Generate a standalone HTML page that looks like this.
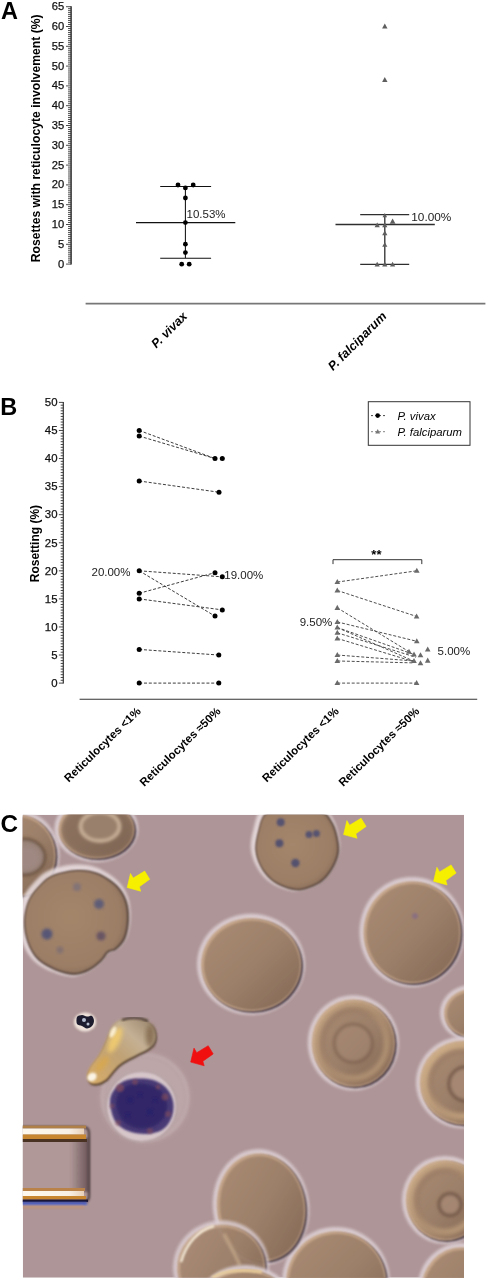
<!DOCTYPE html>
<html><head><meta charset="utf-8"><style>
html,body{margin:0;padding:0;background:#fff;}
svg{display:block;font-family:"Liberation Sans", sans-serif;will-change:transform;} text{-webkit-font-smoothing:antialiased;}
</style></head><body>
<svg width="487" height="1280" viewBox="0 0 487 1280">
<defs>
<clipPath id="clipC"><rect x="22.8" y="814.8" width="441.2" height="462.9"/></clipPath>
<linearGradient id="gbody" x1="0.15" y1="0.15" x2="0.85" y2="0.85"><stop offset="0" stop-color="#a68870"/><stop offset="0.5" stop-color="#9d806a"/><stop offset="1" stop-color="#8a6e5a"/></linearGradient>
<radialGradient id="gbody2" cx="0.45" cy="0.45" r="0.6"><stop offset="0" stop-color="#a4866c"/><stop offset="0.8" stop-color="#9c7e66"/><stop offset="1" stop-color="#8a6e5a"/></radialGradient>
<linearGradient id="gtear" x1="0" y1="1" x2="1" y2="0"><stop offset="0" stop-color="#d8ac68"/><stop offset="0.45" stop-color="#c0a274"/><stop offset="0.7" stop-color="#c4b094"/><stop offset="1" stop-color="#948068"/></linearGradient>
<linearGradient id="grect" x1="0" y1="0" x2="1" y2="0"><stop offset="0" stop-color="#5a4448" stop-opacity="0"/><stop offset="1" stop-color="#5a4448" stop-opacity="0.8"/></linearGradient>
<linearGradient id="gwhite" x1="0" y1="0" x2="1" y2="0"><stop offset="0" stop-color="#fffaf0"/><stop offset="0.8" stop-color="#f8f0e4"/><stop offset="1" stop-color="#e8d0b8"/></linearGradient>
<filter id="b05" x="-20%" y="-20%" width="140%" height="140%"><feGaussianBlur stdDeviation="0.5"/></filter>
<filter id="b08" x="-20%" y="-20%" width="140%" height="140%"><feGaussianBlur stdDeviation="0.8"/></filter>
<filter id="b15" x="-20%" y="-20%" width="140%" height="140%"><feGaussianBlur stdDeviation="1.5"/></filter>
<filter id="b1" x="-20%" y="-20%" width="140%" height="140%"><feGaussianBlur stdDeviation="1"/></filter>
<filter id="b2" x="-30%" y="-30%" width="160%" height="160%"><feGaussianBlur stdDeviation="2"/></filter>
<filter id="b3" x="-30%" y="-30%" width="160%" height="160%"><feGaussianBlur stdDeviation="3"/></filter>
</defs>
<rect width="487" height="1280" fill="#fff"/>
<text x="1.0" y="18.6" font-size="23.5" font-weight="bold">A</text>
<line x1="71.1" y1="6.20" x2="71.1" y2="264.60" stroke="#333" stroke-width="1.5"/>
<path d="M66.0 264.10H71.1M68.0 262.12H71.1M68.0 260.14H71.1M68.0 258.16H71.1M68.0 256.18H71.1M68.0 254.20H71.1M68.0 252.22H71.1M68.0 250.24H71.1M68.0 248.26H71.1M68.0 246.28H71.1M66.0 244.30H71.1M68.0 242.32H71.1M68.0 240.34H71.1M68.0 238.36H71.1M68.0 236.38H71.1M68.0 234.40H71.1M68.0 232.42H71.1M68.0 230.44H71.1M68.0 228.46H71.1M68.0 226.48H71.1M66.0 224.50H71.1M68.0 222.52H71.1M68.0 220.54H71.1M68.0 218.56H71.1M68.0 216.58H71.1M68.0 214.60H71.1M68.0 212.62H71.1M68.0 210.64H71.1M68.0 208.66H71.1M68.0 206.68H71.1M66.0 204.70H71.1M68.0 202.72H71.1M68.0 200.74H71.1M68.0 198.76H71.1M68.0 196.78H71.1M68.0 194.80H71.1M68.0 192.82H71.1M68.0 190.84H71.1M68.0 188.86H71.1M68.0 186.88H71.1M66.0 184.90H71.1M68.0 182.92H71.1M68.0 180.94H71.1M68.0 178.96H71.1M68.0 176.98H71.1M68.0 175.00H71.1M68.0 173.02H71.1M68.0 171.04H71.1M68.0 169.06H71.1M68.0 167.08H71.1M66.0 165.10H71.1M68.0 163.12H71.1M68.0 161.14H71.1M68.0 159.16H71.1M68.0 157.18H71.1M68.0 155.20H71.1M68.0 153.22H71.1M68.0 151.24H71.1M68.0 149.26H71.1M68.0 147.28H71.1M66.0 145.30H71.1M68.0 143.32H71.1M68.0 141.34H71.1M68.0 139.36H71.1M68.0 137.38H71.1M68.0 135.40H71.1M68.0 133.42H71.1M68.0 131.44H71.1M68.0 129.46H71.1M68.0 127.48H71.1M66.0 125.50H71.1M68.0 123.52H71.1M68.0 121.54H71.1M68.0 119.56H71.1M68.0 117.58H71.1M68.0 115.60H71.1M68.0 113.62H71.1M68.0 111.64H71.1M68.0 109.66H71.1M68.0 107.68H71.1M66.0 105.70H71.1M68.0 103.72H71.1M68.0 101.74H71.1M68.0 99.76H71.1M68.0 97.78H71.1M68.0 95.80H71.1M68.0 93.82H71.1M68.0 91.84H71.1M68.0 89.86H71.1M68.0 87.88H71.1M66.0 85.90H71.1M68.0 83.92H71.1M68.0 81.94H71.1M68.0 79.96H71.1M68.0 77.98H71.1M68.0 76.00H71.1M68.0 74.02H71.1M68.0 72.04H71.1M68.0 70.06H71.1M68.0 68.08H71.1M66.0 66.10H71.1M68.0 64.12H71.1M68.0 62.14H71.1M68.0 60.16H71.1M68.0 58.18H71.1M68.0 56.20H71.1M68.0 54.22H71.1M68.0 52.24H71.1M68.0 50.26H71.1M68.0 48.28H71.1M66.0 46.30H71.1M68.0 44.32H71.1M68.0 42.34H71.1M68.0 40.36H71.1M68.0 38.38H71.1M68.0 36.40H71.1M68.0 34.42H71.1M68.0 32.44H71.1M68.0 30.46H71.1M68.0 28.48H71.1M66.0 26.50H71.1M68.0 24.52H71.1M68.0 22.54H71.1M68.0 20.56H71.1M68.0 18.58H71.1M68.0 16.60H71.1M68.0 14.62H71.1M68.0 12.64H71.1M68.0 10.66H71.1M68.0 8.68H71.1M66.0 6.70H71.1" stroke="#3a3a3a" stroke-width="0.9" fill="none"/>
<text x="64.3" y="267.50" font-size="11.2" text-anchor="end" fill="#111" stroke="#111" stroke-width="0.25">0</text>
<text x="64.3" y="247.70" font-size="11.2" text-anchor="end" fill="#111" stroke="#111" stroke-width="0.25">5</text>
<text x="64.3" y="227.90" font-size="11.2" text-anchor="end" fill="#111" stroke="#111" stroke-width="0.25">10</text>
<text x="64.3" y="208.10" font-size="11.2" text-anchor="end" fill="#111" stroke="#111" stroke-width="0.25">15</text>
<text x="64.3" y="188.30" font-size="11.2" text-anchor="end" fill="#111" stroke="#111" stroke-width="0.25">20</text>
<text x="64.3" y="168.50" font-size="11.2" text-anchor="end" fill="#111" stroke="#111" stroke-width="0.25">25</text>
<text x="64.3" y="148.70" font-size="11.2" text-anchor="end" fill="#111" stroke="#111" stroke-width="0.25">30</text>
<text x="64.3" y="128.90" font-size="11.2" text-anchor="end" fill="#111" stroke="#111" stroke-width="0.25">35</text>
<text x="64.3" y="109.10" font-size="11.2" text-anchor="end" fill="#111" stroke="#111" stroke-width="0.25">40</text>
<text x="64.3" y="89.30" font-size="11.2" text-anchor="end" fill="#111" stroke="#111" stroke-width="0.25">45</text>
<text x="64.3" y="69.50" font-size="11.2" text-anchor="end" fill="#111" stroke="#111" stroke-width="0.25">50</text>
<text x="64.3" y="49.70" font-size="11.2" text-anchor="end" fill="#111" stroke="#111" stroke-width="0.25">55</text>
<text x="64.3" y="29.90" font-size="11.2" text-anchor="end" fill="#111" stroke="#111" stroke-width="0.25">60</text>
<text x="64.3" y="10.10" font-size="11.2" text-anchor="end" fill="#111" stroke="#111" stroke-width="0.25">65</text>
<text transform="translate(39.6,138.3) rotate(-90)" font-size="12.2" font-weight="bold" text-anchor="middle">Rosettes with reticulocyte involvement (%)</text>
<path d="M185.4 186.4V258.2M160.2 186.4H211.1M160.2 258.2H211.1M136 222.6H235.3" stroke="#111" stroke-width="1.05" fill="none"/>
<circle cx="178.0" cy="185.0" r="2.4" fill="#000"/>
<circle cx="193.2" cy="185.0" r="2.4" fill="#000"/>
<circle cx="185.4" cy="187.9" r="2.4" fill="#000"/>
<circle cx="185.4" cy="198.0" r="2.4" fill="#000"/>
<circle cx="185.4" cy="222.6" r="2.4" fill="#000"/>
<circle cx="185.4" cy="244.2" r="2.4" fill="#000"/>
<circle cx="185.4" cy="252.6" r="2.4" fill="#000"/>
<circle cx="181.7" cy="264.2" r="2.4" fill="#000"/>
<circle cx="189.2" cy="264.2" r="2.4" fill="#000"/>
<text x="186.5" y="218.3" font-size="11.5" fill="#222">10.53%</text>
<path d="M384.8 214.6V264.4M360.2 214.6H409.2M360.2 264.4H409.2M335.5 224.5H434.8" stroke="#2e2e2e" stroke-width="1.3" fill="none"/>
<path d="M384.80 23.58L387.50 28.44L382.10 28.44Z" fill="#5e5e5e"/>
<path d="M384.80 77.08L387.50 81.94L382.10 81.94Z" fill="#5e5e5e"/>
<path d="M384.80 213.02L387.10 217.16L382.50 217.16Z" fill="#5e5e5e"/>
<path d="M377.20 222.49L379.80 227.17L374.60 227.17Z" fill="#5e5e5e"/>
<path d="M384.80 222.49L387.40 227.17L382.20 227.17Z" fill="#5e5e5e"/>
<path d="M392.60 218.47L395.50 223.69L389.70 223.69Z" fill="#5e5e5e"/>
<path d="M384.80 230.49L387.40 235.17L382.20 235.17Z" fill="#5e5e5e"/>
<path d="M384.80 242.19L387.40 246.87L382.20 246.87Z" fill="#5e5e5e"/>
<path d="M377.20 261.79L379.80 266.47L374.60 266.47Z" fill="#5e5e5e"/>
<path d="M384.80 261.79L387.40 266.47L382.20 266.47Z" fill="#5e5e5e"/>
<path d="M392.60 261.79L395.20 266.47L390.00 266.47Z" fill="#5e5e5e"/>
<text x="411.3" y="220.6" font-size="11.8" fill="#222">10.00%</text>
<line x1="85.6" y1="303.7" x2="485.4" y2="303.7" stroke="#777" stroke-width="1.8"/>
<text transform="translate(188,317) rotate(-45)" font-size="12.5" font-weight="bold" font-style="italic" text-anchor="end">P. vivax</text>
<text transform="translate(387.3,317) rotate(-45)" font-size="12.5" font-weight="bold" font-style="italic" text-anchor="end">P. falciparum</text>
<text x="0.2" y="414.6" font-size="23.5" font-weight="bold">B</text>
<line x1="63.3" y1="401.90" x2="63.3" y2="683.60" stroke="#333" stroke-width="1.2"/>
<path d="M58.9 683.10H63.3M60.7 680.29H63.3M60.7 677.49H63.3M60.7 674.68H63.3M60.7 671.87H63.3M60.7 669.07H63.3M60.7 666.26H63.3M60.7 663.45H63.3M60.7 660.64H63.3M60.7 657.84H63.3M58.9 655.03H63.3M60.7 652.22H63.3M60.7 649.42H63.3M60.7 646.61H63.3M60.7 643.80H63.3M60.7 641.00H63.3M60.7 638.19H63.3M60.7 635.38H63.3M60.7 632.57H63.3M60.7 629.77H63.3M58.9 626.96H63.3M60.7 624.15H63.3M60.7 621.35H63.3M60.7 618.54H63.3M60.7 615.73H63.3M60.7 612.93H63.3M60.7 610.12H63.3M60.7 607.31H63.3M60.7 604.50H63.3M60.7 601.70H63.3M58.9 598.89H63.3M60.7 596.08H63.3M60.7 593.28H63.3M60.7 590.47H63.3M60.7 587.66H63.3M60.7 584.86H63.3M60.7 582.05H63.3M60.7 579.24H63.3M60.7 576.43H63.3M60.7 573.63H63.3M58.9 570.82H63.3M60.7 568.01H63.3M60.7 565.21H63.3M60.7 562.40H63.3M60.7 559.59H63.3M60.7 556.79H63.3M60.7 553.98H63.3M60.7 551.17H63.3M60.7 548.36H63.3M60.7 545.56H63.3M58.9 542.75H63.3M60.7 539.94H63.3M60.7 537.14H63.3M60.7 534.33H63.3M60.7 531.52H63.3M60.7 528.72H63.3M60.7 525.91H63.3M60.7 523.10H63.3M60.7 520.29H63.3M60.7 517.49H63.3M58.9 514.68H63.3M60.7 511.87H63.3M60.7 509.07H63.3M60.7 506.26H63.3M60.7 503.45H63.3M60.7 500.65H63.3M60.7 497.84H63.3M60.7 495.03H63.3M60.7 492.22H63.3M60.7 489.42H63.3M58.9 486.61H63.3M60.7 483.80H63.3M60.7 481.00H63.3M60.7 478.19H63.3M60.7 475.38H63.3M60.7 472.58H63.3M60.7 469.77H63.3M60.7 466.96H63.3M60.7 464.15H63.3M60.7 461.35H63.3M58.9 458.54H63.3M60.7 455.73H63.3M60.7 452.93H63.3M60.7 450.12H63.3M60.7 447.31H63.3M60.7 444.50H63.3M60.7 441.70H63.3M60.7 438.89H63.3M60.7 436.08H63.3M60.7 433.28H63.3M58.9 430.47H63.3M60.7 427.66H63.3M60.7 424.86H63.3M60.7 422.05H63.3M60.7 419.24H63.3M60.7 416.44H63.3M60.7 413.63H63.3M60.7 410.82H63.3M60.7 408.01H63.3M60.7 405.21H63.3M58.9 402.40H63.3" stroke="#333" stroke-width="0.9" fill="none"/>
<text x="57.5" y="686.90" font-size="11.4" text-anchor="end" fill="#111" stroke="#111" stroke-width="0.25">0</text>
<text x="57.5" y="658.83" font-size="11.4" text-anchor="end" fill="#111" stroke="#111" stroke-width="0.25">5</text>
<text x="57.5" y="630.76" font-size="11.4" text-anchor="end" fill="#111" stroke="#111" stroke-width="0.25">10</text>
<text x="57.5" y="602.69" font-size="11.4" text-anchor="end" fill="#111" stroke="#111" stroke-width="0.25">15</text>
<text x="57.5" y="574.62" font-size="11.4" text-anchor="end" fill="#111" stroke="#111" stroke-width="0.25">20</text>
<text x="57.5" y="546.55" font-size="11.4" text-anchor="end" fill="#111" stroke="#111" stroke-width="0.25">25</text>
<text x="57.5" y="518.48" font-size="11.4" text-anchor="end" fill="#111" stroke="#111" stroke-width="0.25">30</text>
<text x="57.5" y="490.41" font-size="11.4" text-anchor="end" fill="#111" stroke="#111" stroke-width="0.25">35</text>
<text x="57.5" y="462.34" font-size="11.4" text-anchor="end" fill="#111" stroke="#111" stroke-width="0.25">40</text>
<text x="57.5" y="434.27" font-size="11.4" text-anchor="end" fill="#111" stroke="#111" stroke-width="0.25">45</text>
<text x="57.5" y="406.20" font-size="11.4" text-anchor="end" fill="#111" stroke="#111" stroke-width="0.25">50</text>
<text transform="translate(38.8,543.6) rotate(-90)" font-size="12" font-weight="bold" text-anchor="middle">Rosetting (%)</text>
<line x1="79.6" y1="699.2" x2="477.2" y2="699.2" stroke="#333" stroke-width="1.1"/>
<line x1="139.2" y1="430.47" x2="215.0" y2="458.54" stroke="#333" stroke-width="0.95" stroke-dasharray="3 1.8"/>
<line x1="139.2" y1="436.08" x2="215.0" y2="458.54" stroke="#333" stroke-width="0.95" stroke-dasharray="3 1.8"/>
<line x1="139.2" y1="481.00" x2="219.0" y2="492.22" stroke="#333" stroke-width="0.95" stroke-dasharray="3 1.8"/>
<line x1="139.2" y1="570.82" x2="222.3" y2="576.83" stroke="#333" stroke-width="0.95" stroke-dasharray="3 1.8"/>
<line x1="139.2" y1="570.82" x2="215.0" y2="616.12" stroke="#333" stroke-width="0.95" stroke-dasharray="3 1.8"/>
<line x1="139.2" y1="593.28" x2="215.0" y2="572.67" stroke="#333" stroke-width="0.95" stroke-dasharray="3 1.8"/>
<line x1="139.2" y1="598.89" x2="222.3" y2="609.89" stroke="#333" stroke-width="0.95" stroke-dasharray="3 1.8"/>
<line x1="139.2" y1="649.42" x2="218.8" y2="655.03" stroke="#333" stroke-width="0.95" stroke-dasharray="3 1.8"/>
<line x1="139.2" y1="683.10" x2="218.8" y2="683.10" stroke="#333" stroke-width="0.95" stroke-dasharray="3 1.8"/>
<circle cx="139.2" cy="430.47" r="2.5" fill="#000"/>
<circle cx="139.2" cy="436.08" r="2.5" fill="#000"/>
<circle cx="139.2" cy="481.00" r="2.5" fill="#000"/>
<circle cx="139.2" cy="570.82" r="2.5" fill="#000"/>
<circle cx="139.2" cy="593.28" r="2.5" fill="#000"/>
<circle cx="139.2" cy="598.89" r="2.5" fill="#000"/>
<circle cx="139.2" cy="649.42" r="2.5" fill="#000"/>
<circle cx="139.2" cy="683.10" r="2.5" fill="#000"/>
<circle cx="215.0" cy="458.54" r="2.5" fill="#000"/>
<circle cx="222.3" cy="458.54" r="2.5" fill="#000"/>
<circle cx="219.0" cy="492.22" r="2.5" fill="#000"/>
<circle cx="215" cy="572.67" r="2.5" fill="#000"/>
<circle cx="222.3" cy="576.83" r="2.5" fill="#000"/>
<circle cx="222.3" cy="609.89" r="2.5" fill="#000"/>
<circle cx="215" cy="616.12" r="2.5" fill="#000"/>
<circle cx="218.8" cy="655.03" r="2.5" fill="#000"/>
<circle cx="218.8" cy="683.10" r="2.5" fill="#000"/>
<line x1="337.3" y1="582.05" x2="416.8" y2="570.82" stroke="#444" stroke-width="0.95" stroke-dasharray="3 1.8"/>
<line x1="337.3" y1="590.47" x2="416.8" y2="616.52" stroke="#444" stroke-width="0.95" stroke-dasharray="3 1.8"/>
<line x1="337.3" y1="607.87" x2="409" y2="651.66" stroke="#444" stroke-width="0.95" stroke-dasharray="3 1.8"/>
<line x1="337.3" y1="621.91" x2="416.8" y2="641.28" stroke="#444" stroke-width="0.95" stroke-dasharray="3 1.8"/>
<line x1="337.3" y1="627.52" x2="414" y2="654.47" stroke="#444" stroke-width="0.95" stroke-dasharray="3 1.8"/>
<line x1="337.3" y1="627.52" x2="414" y2="661.21" stroke="#444" stroke-width="0.95" stroke-dasharray="3 1.8"/>
<line x1="337.3" y1="632.80" x2="416" y2="657.28" stroke="#444" stroke-width="0.95" stroke-dasharray="3 1.8"/>
<line x1="337.3" y1="638.41" x2="416" y2="662.33" stroke="#444" stroke-width="0.95" stroke-dasharray="3 1.8"/>
<line x1="337.3" y1="655.03" x2="414" y2="660.98" stroke="#444" stroke-width="0.95" stroke-dasharray="3 1.8"/>
<line x1="337.3" y1="660.98" x2="414" y2="662.89" stroke="#444" stroke-width="0.95" stroke-dasharray="3 1.8"/>
<line x1="337.3" y1="683.10" x2="416.6" y2="683.10" stroke="#444" stroke-width="0.95" stroke-dasharray="3 1.8"/>
<path d="M337.30 579.02L340.10 584.06L334.50 584.06Z" fill="#6a6a6a"/>
<path d="M337.30 587.45L340.10 592.49L334.50 592.49Z" fill="#6a6a6a"/>
<path d="M337.30 604.85L340.10 609.89L334.50 609.89Z" fill="#6a6a6a"/>
<path d="M337.30 618.88L340.10 623.92L334.50 623.92Z" fill="#6a6a6a"/>
<path d="M337.30 624.50L340.10 629.54L334.50 629.54Z" fill="#6a6a6a"/>
<path d="M337.30 629.77L340.10 634.81L334.50 634.81Z" fill="#6a6a6a"/>
<path d="M337.30 635.39L340.10 640.43L334.50 640.43Z" fill="#6a6a6a"/>
<path d="M337.30 652.01L340.10 657.05L334.50 657.05Z" fill="#6a6a6a"/>
<path d="M337.30 657.96L340.10 663.00L334.50 663.00Z" fill="#6a6a6a"/>
<path d="M337.30 680.08L340.10 685.12L334.50 685.12Z" fill="#6a6a6a"/>
<path d="M416.80 567.80L419.60 572.84L414.00 572.84Z" fill="#6a6a6a"/>
<path d="M416.60 613.49L419.40 618.53L413.80 618.53Z" fill="#6a6a6a"/>
<path d="M416.80 638.25L419.60 643.29L414.00 643.29Z" fill="#6a6a6a"/>
<path d="M427.70 646.56L430.50 651.60L424.90 651.60Z" fill="#6a6a6a"/>
<path d="M409.00 648.64L411.80 653.68L406.20 653.68Z" fill="#6a6a6a"/>
<path d="M414.00 651.44L416.80 656.48L411.20 656.48Z" fill="#6a6a6a"/>
<path d="M420.50 652.29L423.30 657.33L417.70 657.33Z" fill="#6a6a6a"/>
<path d="M427.70 657.62L430.50 662.66L424.90 662.66Z" fill="#6a6a6a"/>
<path d="M414.00 657.96L416.80 663.00L411.20 663.00Z" fill="#6a6a6a"/>
<path d="M420.50 660.20L423.30 665.24L417.70 665.24Z" fill="#6a6a6a"/>
<path d="M416.60 680.08L419.40 685.12L413.80 685.12Z" fill="#6a6a6a"/>
<path d="M333 564.1V559.7H421.8V564.1" stroke="#333" stroke-width="1" fill="none"/>
<text x="376.4" y="558.8" font-size="13" font-weight="bold" text-anchor="middle">**</text>
<text x="130.5" y="575.5" font-size="11.5" text-anchor="end" fill="#222">20.00%</text>
<text x="224.3" y="578.8" font-size="11.5" fill="#222">19.00%</text>
<text x="332.3" y="625.6" font-size="11.5" text-anchor="end" fill="#222">9.50%</text>
<text x="437.6" y="654.6" font-size="11.5" fill="#222">5.00%</text>
<rect x="368.3" y="401.7" width="101.7" height="43.6" fill="none" stroke="#333" stroke-width="1"/>
<line x1="371" y1="415.6" x2="387" y2="415.6" stroke="#333" stroke-width="0.9" stroke-dasharray="2 2"/>
<circle cx="377.7" cy="415.6" r="2.3" fill="#000"/>
<line x1="371" y1="431.7" x2="387" y2="431.7" stroke="#777" stroke-width="0.9" stroke-dasharray="2 2"/>
<path d="M377.70 429.11L380.10 433.43L375.30 433.43Z" fill="#777"/>
<text x="397.5" y="419.6" font-size="11.3" font-style="italic">P. vivax</text>
<text x="397.5" y="435.7" font-size="11.3" font-style="italic">P. falciparum</text>
<text transform="translate(141.5,712.2) rotate(-44.2)" font-size="11.5" font-weight="bold" text-anchor="end">Reticulocytes &lt;1%</text>
<text transform="translate(221.3,712.2) rotate(-44.2)" font-size="11.5" font-weight="bold" text-anchor="end">Reticulocytes ≈50%</text>
<text transform="translate(339.5,712.2) rotate(-44.2)" font-size="11.5" font-weight="bold" text-anchor="end">Reticulocytes &lt;1%</text>
<text transform="translate(420.1,712.2) rotate(-44.2)" font-size="11.5" font-weight="bold" text-anchor="end">Reticulocytes ≈50%</text>
<text x="0.4" y="831.8" font-size="24.3" font-weight="bold">C</text>
<g clip-path="url(#clipC)"><rect x="22.8" y="814.8" width="441.2" height="462.9" fill="#ae9597"/><ellipse cx="17" cy="855" rx="42.5" ry="45" fill="#ddd0d6" transform="rotate(0 17 855)" filter="url(#b15)" opacity="0.9"/><ellipse cx="19.0" cy="857.0" rx="38.5" ry="41" fill="#4a3a44" transform="rotate(0 19.0 857.0)" filter="url(#b08)"/><ellipse cx="17.0" cy="855.2" rx="38.5" ry="41" fill="#c8a88c" transform="rotate(0 17.0 855.2)" filter="url(#b08)"/><ellipse cx="18" cy="856" rx="36.7" ry="39.2" fill="url(#gbody)" transform="rotate(0 18 856)" filter="url(#b1)"/><ellipse cx="24" cy="857" rx="21" ry="18" fill="#9a847c" stroke="#6a5240" stroke-width="3" filter="url(#b15)" opacity="0.9"/><ellipse cx="26" cy="858" rx="14" ry="12" fill="#a08a84" filter="url(#b2)" opacity="0.8"/><ellipse cx="96.3" cy="829" rx="42" ry="33" fill="#ddd0d6" transform="rotate(0 96.3 829)" filter="url(#b15)" opacity="0.9"/><ellipse cx="98.3" cy="831.0" rx="38" ry="29" fill="#4a3a44" transform="rotate(0 98.3 831.0)" filter="url(#b08)"/><ellipse cx="96.3" cy="829.2" rx="38" ry="29" fill="#c8a88c" transform="rotate(0 96.3 829.2)" filter="url(#b08)"/><ellipse cx="97.3" cy="830" rx="36.2" ry="27.2" fill="url(#gbody)" transform="rotate(0 97.3 830)" filter="url(#b1)"/><ellipse cx="97.3" cy="830" rx="35" ry="26" fill="#7a6452" transform="rotate(0 97.3 830)" filter="url(#b2)" opacity="0.6"/><ellipse cx="100" cy="826.5" rx="19.5" ry="14.5" fill="#98806c" stroke="#c4ac94" stroke-width="4" filter="url(#b15)"/><path d="M75.6 864.6C83.4 864.2 89.9 865.1 96.9 867.8C103.8 870.4 112.0 875.7 117.1 880.6C122.2 885.4 125.5 890.9 127.8 897.1C130.0 903.2 130.6 910.6 130.4 917.3C130.2 924.0 128.9 932.2 126.7 937.5C124.5 942.9 120.1 946.8 117.1 949.3C114.1 951.7 111.2 950.3 108.6 952.5C105.9 954.6 104.5 958.8 101.1 962.0C97.8 965.2 93.1 969.2 88.3 971.6C83.6 974.0 78.4 976.4 72.4 976.4C66.3 976.4 58.7 974.4 52.1 971.6C45.6 968.9 37.9 964.9 33.0 959.9C28.0 954.9 24.7 948.5 22.3 941.8C19.9 935.1 18.4 926.9 18.6 919.4C18.8 912.0 20.5 903.6 23.4 897.1C26.3 890.5 31.7 884.6 36.2 880.0C40.6 875.5 43.4 872.5 50.0 869.9C56.6 867.3 67.8 864.9 75.6 864.6Z" fill="#ebe0e2" filter="url(#b15)" opacity="0.85"/><path d="M77.6 870.1C84.9 869.8 91.1 870.6 97.6 873.1C104.1 875.6 111.8 880.5 116.6 885.1C121.4 889.7 124.5 894.9 126.6 900.6C128.7 906.4 129.3 913.3 129.1 919.6C128.9 925.9 127.7 933.6 125.6 938.6C123.5 943.6 119.4 947.3 116.6 949.6C113.8 951.9 111.1 950.6 108.6 952.6C106.1 954.6 104.8 958.6 101.6 961.6C98.4 964.6 94.1 968.4 89.6 970.6C85.1 972.9 80.3 975.1 74.6 975.1C68.9 975.1 61.8 973.2 55.6 970.6C49.4 968.0 42.3 964.3 37.6 959.6C32.9 954.9 29.9 948.9 27.6 942.6C25.4 936.3 23.9 928.6 24.1 921.6C24.3 914.6 25.9 906.8 28.6 900.6C31.4 894.4 36.4 888.9 40.6 884.6C44.8 880.4 47.4 877.5 53.6 875.1C59.8 872.7 70.3 870.4 77.6 870.1Z" fill="#54423a" filter="url(#b1)"/><path d="M77.0 871.0C84.1 870.6 90.1 871.5 96.4 873.9C102.7 876.3 110.2 881.1 114.9 885.5C119.6 890.0 122.6 895.0 124.6 900.6C126.6 906.2 127.2 912.9 127.0 919.1C126.9 925.2 125.7 932.7 123.6 937.6C121.6 942.4 117.6 946.0 114.9 948.2C112.1 950.5 109.5 949.2 107.1 951.2C104.7 953.1 103.4 957.0 100.3 959.9C97.2 962.8 93.0 966.5 88.6 968.7C84.3 970.8 79.6 973.0 74.1 973.0C68.5 973.0 61.6 971.2 55.6 968.7C49.6 966.1 42.6 962.5 38.1 958.0C33.6 953.4 30.6 947.6 28.4 941.4C26.2 935.3 24.8 927.8 25.0 921.0C25.1 914.2 26.7 906.6 29.3 900.6C32.0 894.6 37.0 889.2 41.0 885.1C45.1 880.9 47.7 878.2 53.6 875.8C59.6 873.5 69.8 871.3 77.0 871.0Z" fill="url(#gbody2)" filter="url(#b08)"/><circle cx="47" cy="934" r="5.5" fill="#4c5078" filter="url(#b15)" opacity="0.85"/><circle cx="99" cy="904" r="5" fill="#50547a" filter="url(#b15)" opacity="0.8"/><circle cx="101" cy="936" r="4.5" fill="#5a4a62" filter="url(#b15)" opacity="0.8"/><circle cx="77" cy="887" r="4" fill="#706a80" filter="url(#b15)" opacity="0.6"/><circle cx="60" cy="950" r="3.5" fill="#6a6478" filter="url(#b15)" opacity="0.5"/><path d="M260.4 810.2C256.8 814.1 255.6 821.0 254.0 827.2C252.4 833.4 250.4 841.0 250.8 847.4C251.1 853.8 253.4 860.2 256.1 865.5C258.8 870.9 262.5 875.7 266.7 879.4C271.0 883.1 276.5 886.0 281.7 887.9C286.8 889.9 292.5 891.3 297.6 891.1C302.8 890.9 308.1 888.8 312.5 886.8C317.0 884.9 320.7 882.8 324.3 879.4C327.8 876.0 331.3 871.4 333.8 866.6C336.4 861.8 339.0 856.1 339.7 850.6C340.4 845.1 339.3 838.9 338.1 833.6C336.9 828.3 335.4 823.1 332.8 818.7C330.1 814.2 327.8 809.6 322.1 807.0C316.4 804.3 306.5 803.2 298.7 802.7C290.9 802.2 281.7 802.5 275.3 803.8C268.9 805.0 263.9 806.3 260.4 810.2Z" fill="#ebe0e2" filter="url(#b15)" opacity="0.85"/><path d="M264.6 814.6C261.3 818.3 260.1 824.8 258.6 830.6C257.1 836.4 255.3 843.6 255.6 849.6C255.9 855.6 258.1 861.6 260.6 866.6C263.1 871.6 266.6 876.1 270.6 879.6C274.6 883.1 279.8 885.8 284.6 887.6C289.4 889.4 294.8 890.8 299.6 890.6C304.4 890.4 309.4 888.4 313.6 886.6C317.8 884.8 321.3 882.8 324.6 879.6C327.9 876.4 331.2 872.1 333.6 867.6C336.0 863.1 338.4 857.8 339.1 852.6C339.8 847.4 338.7 841.6 337.6 836.6C336.5 831.6 335.1 826.8 332.6 822.6C330.1 818.4 327.9 814.1 322.6 811.6C317.3 809.1 307.9 808.1 300.6 807.6C293.3 807.1 284.6 807.4 278.6 808.6C272.6 809.8 267.9 810.9 264.6 814.6Z" fill="#54423a" filter="url(#b1)"/><path d="M264.9 815.0C261.7 818.6 260.5 824.9 259.1 830.6C257.6 836.2 255.9 843.2 256.2 849.0C256.5 854.9 258.6 860.7 261.0 865.6C263.5 870.4 266.9 874.8 270.8 878.2C274.6 881.6 279.7 884.2 284.4 886.0C289.1 887.7 294.2 889.0 298.9 888.9C303.6 888.7 308.5 886.8 312.6 885.0C316.6 883.2 320.0 881.3 323.2 878.2C326.5 875.1 329.6 870.9 332.0 866.5C334.3 862.1 336.7 857.0 337.3 851.9C338.0 846.9 336.9 841.3 335.9 836.4C334.8 831.5 333.4 826.8 331.0 822.8C328.6 818.7 326.5 814.5 321.3 812.1C316.1 809.7 307.0 808.7 299.9 808.2C292.8 807.7 284.4 808.0 278.5 809.2C272.7 810.3 268.2 811.4 264.9 815.0Z" fill="url(#gbody2)" filter="url(#b08)"/><circle cx="280.7" cy="822.3" r="4" fill="#4a4c72" filter="url(#b1)" opacity="0.85"/><circle cx="279.4" cy="843.3" r="4" fill="#464870" filter="url(#b1)" opacity="0.85"/><circle cx="309" cy="834.6" r="3.5" fill="#4a4c72" filter="url(#b1)" opacity="0.85"/><circle cx="316.4" cy="833.4" r="3.5" fill="#4a4c72" filter="url(#b1)" opacity="0.85"/><circle cx="295.4" cy="863" r="4.2" fill="#464870" filter="url(#b1)" opacity="0.85"/><ellipse cx="412" cy="932" rx="52.5" ry="55" fill="#ddd0d6" transform="rotate(0 412 932)" filter="url(#b15)" opacity="0.9"/><ellipse cx="414.0" cy="934.0" rx="48.5" ry="51" fill="#4a3a44" transform="rotate(0 414.0 934.0)" filter="url(#b08)"/><ellipse cx="412.0" cy="932.2" rx="48.5" ry="51" fill="#c8a88c" transform="rotate(0 412.0 932.2)" filter="url(#b08)"/><ellipse cx="413" cy="933" rx="46.7" ry="49.2" fill="url(#gbody)" transform="rotate(0 413 933)" filter="url(#b1)"/><circle cx="415" cy="916" r="3" fill="#8a7080" filter="url(#b1)"/><ellipse cx="251" cy="964.3" rx="54" ry="50.5" fill="#ddd0d6" transform="rotate(0 251 964.3)" filter="url(#b15)" opacity="0.9"/><ellipse cx="253.0" cy="966.3" rx="50" ry="46.5" fill="#4a3a44" transform="rotate(0 253.0 966.3)" filter="url(#b08)"/><ellipse cx="251.0" cy="964.5" rx="50" ry="46.5" fill="#c8a88c" transform="rotate(0 251.0 964.5)" filter="url(#b08)"/><ellipse cx="252" cy="965.3" rx="48.2" ry="44.7" fill="url(#gbody)" transform="rotate(0 252 965.3)" filter="url(#b1)"/><ellipse cx="353.3" cy="1042.8" rx="45.5" ry="47.5" fill="#ddd0d6" transform="rotate(0 353.3 1042.8)" filter="url(#b15)" opacity="0.9"/><ellipse cx="355.3" cy="1044.8" rx="41.5" ry="43.5" fill="#4a3a44" transform="rotate(0 355.3 1044.8)" filter="url(#b08)"/><ellipse cx="353.3" cy="1043.0" rx="41.5" ry="43.5" fill="#c8a88c" transform="rotate(0 353.3 1043.0)" filter="url(#b08)"/><ellipse cx="354.3" cy="1043.8" rx="39.7" ry="41.7" fill="url(#gbody)" transform="rotate(0 354.3 1043.8)" filter="url(#b1)"/><ellipse cx="352.3" cy="1041.8" rx="35.5" ry="37.5" fill="none" stroke="#d4b48a" stroke-width="7" filter="url(#b2)" opacity="0.5"/><ellipse cx="355.8" cy="1045.3" rx="34.5" ry="36.5" fill="none" stroke="#8a6a56" stroke-width="5" filter="url(#b2)" opacity="0.35"/><ellipse cx="353.3" cy="1043.3" rx="19" ry="19" fill="#a88a76" stroke="#6e5244" stroke-width="3.5" filter="url(#b15)" opacity="0.45"/><ellipse cx="471" cy="1013" rx="31" ry="28" fill="#ddd0d6" transform="rotate(0 471 1013)" filter="url(#b15)" opacity="0.9"/><ellipse cx="473.0" cy="1015.0" rx="27" ry="24" fill="#4a3a44" transform="rotate(0 473.0 1015.0)" filter="url(#b08)"/><ellipse cx="471.0" cy="1013.2" rx="27" ry="24" fill="#c8a88c" transform="rotate(0 471.0 1013.2)" filter="url(#b08)"/><ellipse cx="472" cy="1014" rx="25.2" ry="22.2" fill="url(#gbody)" transform="rotate(0 472 1014)" filter="url(#b1)"/><ellipse cx="463" cy="1082.5" rx="47" ry="45.7" fill="#ddd0d6" transform="rotate(0 463 1082.5)" filter="url(#b15)" opacity="0.9"/><ellipse cx="465.0" cy="1084.5" rx="43" ry="41.7" fill="#4a3a44" transform="rotate(0 465.0 1084.5)" filter="url(#b08)"/><ellipse cx="463.0" cy="1082.7" rx="43" ry="41.7" fill="#c8a88c" transform="rotate(0 463.0 1082.7)" filter="url(#b08)"/><ellipse cx="464" cy="1083.5" rx="41.2" ry="39.900000000000006" fill="url(#gbody)" transform="rotate(0 464 1083.5)" filter="url(#b1)"/><ellipse cx="462" cy="1081.5" rx="37" ry="35.7" fill="none" stroke="#d4b48a" stroke-width="7" filter="url(#b2)" opacity="0.8"/><ellipse cx="465.5" cy="1085.0" rx="36" ry="34.7" fill="none" stroke="#8a6a56" stroke-width="5" filter="url(#b2)" opacity="0.35"/><ellipse cx="466" cy="1084" rx="17" ry="17" fill="#a88a76" stroke="#6e5244" stroke-width="3.5" filter="url(#b15)" opacity="0.75"/><ellipse cx="445" cy="1200" rx="43" ry="44" fill="#ddd0d6" transform="rotate(0 445 1200)" filter="url(#b15)" opacity="0.9"/><ellipse cx="447.0" cy="1202.0" rx="39" ry="40" fill="#4a3a44" transform="rotate(0 447.0 1202.0)" filter="url(#b08)"/><ellipse cx="445.0" cy="1200.2" rx="39" ry="40" fill="#c8a88c" transform="rotate(0 445.0 1200.2)" filter="url(#b08)"/><ellipse cx="446" cy="1201" rx="37.2" ry="38.2" fill="url(#gbody)" transform="rotate(0 446 1201)" filter="url(#b1)"/><ellipse cx="444" cy="1199" rx="33" ry="34" fill="none" stroke="#d4b48a" stroke-width="7" filter="url(#b2)" opacity="0.6"/><ellipse cx="447.5" cy="1202.5" rx="32" ry="33" fill="none" stroke="#8a6a56" stroke-width="5" filter="url(#b2)" opacity="0.35"/><ellipse cx="450" cy="1204.6" rx="11" ry="11" fill="#a88a76" stroke="#6e5244" stroke-width="3.5" filter="url(#b15)" opacity="0.75"/><ellipse cx="461" cy="1291" rx="44" ry="48" fill="#ddd0d6" transform="rotate(0 461 1291)" filter="url(#b15)" opacity="0.9"/><ellipse cx="463.0" cy="1293.0" rx="40" ry="44" fill="#4a3a44" transform="rotate(0 463.0 1293.0)" filter="url(#b08)"/><ellipse cx="461.0" cy="1291.2" rx="40" ry="44" fill="#c8a88c" transform="rotate(0 461.0 1291.2)" filter="url(#b08)"/><ellipse cx="462" cy="1292" rx="38.2" ry="42.2" fill="url(#gbody)" transform="rotate(0 462 1292)" filter="url(#b1)"/><ellipse cx="336" cy="1282" rx="54" ry="55" fill="#ddd0d6" transform="rotate(0 336 1282)" filter="url(#b15)" opacity="0.9"/><ellipse cx="338.0" cy="1284.0" rx="50" ry="51" fill="#4a3a44" transform="rotate(0 338.0 1284.0)" filter="url(#b08)"/><ellipse cx="336.0" cy="1282.2" rx="50" ry="51" fill="#c8a88c" transform="rotate(0 336.0 1282.2)" filter="url(#b08)"/><ellipse cx="337" cy="1283" rx="48.2" ry="49.2" fill="url(#gbody)" transform="rotate(0 337 1283)" filter="url(#b1)"/><ellipse cx="261" cy="1207" rx="48" ry="58" fill="#ddd0d6" transform="rotate(-8 261 1207)" filter="url(#b15)" opacity="0.9"/><ellipse cx="263.0" cy="1209.0" rx="44" ry="54" fill="#4a3a44" transform="rotate(-8 263.0 1209.0)" filter="url(#b08)"/><ellipse cx="261.0" cy="1207.2" rx="44" ry="54" fill="#c8a88c" transform="rotate(-8 261.0 1207.2)" filter="url(#b08)"/><ellipse cx="262" cy="1208" rx="42.2" ry="52.2" fill="url(#gbody)" transform="rotate(-8 262 1208)" filter="url(#b1)"/><g opacity="0.92"><ellipse cx="221" cy="1267" rx="48" ry="46.5" fill="#ddd0d6" transform="rotate(-15 221 1267)" filter="url(#b15)" opacity="0.9"/><ellipse cx="223.0" cy="1269.0" rx="44" ry="42.5" fill="#4a3a44" transform="rotate(-15 223.0 1269.0)" filter="url(#b08)"/><ellipse cx="221.0" cy="1267.2" rx="44" ry="42.5" fill="#c8a88c" transform="rotate(-15 221.0 1267.2)" filter="url(#b08)"/><ellipse cx="222" cy="1268" rx="42.2" ry="40.7" fill="url(#gbody)" transform="rotate(-15 222 1268)" filter="url(#b1)"/></g><path d="M181 1262 C186 1244 198 1230 214 1226" stroke="#f4ead8" stroke-width="2.5" fill="none" filter="url(#b1)"/><path d="M224 1234 C230 1245 236 1256 240 1266" stroke="#c8ac8c" stroke-width="3" fill="none" filter="url(#b15)" opacity="0.8"/><ellipse cx="245" cy="1301" rx="46" ry="36" fill="#ddd0d6" transform="rotate(0 245 1301)" filter="url(#b15)" opacity="0.9"/><ellipse cx="247.0" cy="1303.0" rx="42" ry="32" fill="#4a3a44" transform="rotate(0 247.0 1303.0)" filter="url(#b08)"/><ellipse cx="245.0" cy="1301.2" rx="42" ry="32" fill="#c8a88c" transform="rotate(0 245.0 1301.2)" filter="url(#b08)"/><ellipse cx="246" cy="1302" rx="40.2" ry="30.2" fill="url(#gbody)" transform="rotate(0 246 1302)" filter="url(#b1)"/><path d="M212 1278 C222 1271 240 1269 262 1272" stroke="#e8cc98" stroke-width="3" fill="none" filter="url(#b1)"/><circle cx="145" cy="1097.5" r="44" fill="#c8b4b6" filter="url(#b3)" opacity="0.55"/><circle cx="145" cy="1097.5" r="43" fill="none" stroke="#d4c2c4" stroke-width="1.6" filter="url(#b15)" opacity="0.5"/><circle cx="141.5" cy="1106.5" r="35.5" fill="#d6c6ca" filter="url(#b15)"/><circle cx="141.5" cy="1106.5" r="35.5" fill="none" stroke="#907a7c" stroke-width="1.2" filter="url(#b08)" opacity="0.6"/><path d="M110.0 1102.0C109.8 1096.8 111.7 1093.5 114.0 1090.0C116.3 1086.5 119.7 1082.9 124.0 1081.0C128.3 1079.1 134.7 1078.5 140.0 1078.5C145.3 1078.5 151.3 1079.1 156.0 1081.0C160.7 1082.9 165.1 1086.2 168.0 1090.0C170.9 1093.8 173.0 1099.2 173.5 1104.0C174.0 1108.8 172.9 1114.7 171.0 1119.0C169.1 1123.3 166.2 1127.5 162.0 1130.0C157.8 1132.5 151.7 1133.8 146.0 1134.0C140.3 1134.2 133.2 1133.2 128.0 1131.0C122.8 1128.8 118.0 1125.8 115.0 1121.0C112.0 1116.2 110.2 1107.2 110.0 1102.0Z" fill="#4a3a74" filter="url(#b1)"/><path d="M116.0 1104.0C115.7 1099.2 117.3 1094.3 120.0 1091.0C122.7 1087.7 127.7 1085.2 132.0 1084.0C136.3 1082.8 141.3 1083.0 146.0 1084.0C150.7 1085.0 156.5 1086.8 160.0 1090.0C163.5 1093.2 166.3 1098.3 167.0 1103.0C167.7 1107.7 166.5 1114.0 164.0 1118.0C161.5 1122.0 156.7 1125.3 152.0 1127.0C147.3 1128.7 141.0 1129.2 136.0 1128.0C131.0 1126.8 125.3 1124.0 122.0 1120.0C118.7 1116.0 116.3 1108.8 116.0 1104.0Z" fill="#302668" filter="url(#b15)"/><circle cx="120" cy="1088" r="4" fill="#8c5058" filter="url(#b1)" opacity="0.6"/><circle cx="135" cy="1082" r="3" fill="#8c5058" filter="url(#b1)" opacity="0.5"/><circle cx="165" cy="1097" r="3.5" fill="#8c5058" filter="url(#b1)" opacity="0.55"/><circle cx="168" cy="1114" r="3" fill="#8c5058" filter="url(#b1)" opacity="0.5"/><circle cx="150" cy="1131" r="3" fill="#8c5058" filter="url(#b1)" opacity="0.5"/><circle cx="118" cy="1123" r="3" fill="#8c5058" filter="url(#b1)" opacity="0.45"/><circle cx="112" cy="1106" r="2.5" fill="#8c5058" filter="url(#b1)" opacity="0.45"/><circle cx="158" cy="1087" r="2.5" fill="#8c5058" filter="url(#b1)" opacity="0.5"/><circle cx="130" cy="1100" r="3" fill="#28206a" filter="url(#b1)" opacity="0.8"/><circle cx="150" cy="1112" r="3.5" fill="#28206a" filter="url(#b1)" opacity="0.8"/><circle cx="140" cy="1095" r="2.5" fill="#28206a" filter="url(#b1)" opacity="0.8"/><circle cx="155" cy="1100" r="2.5" fill="#28206a" filter="url(#b1)" opacity="0.8"/><circle cx="128" cy="1115" r="2.5" fill="#28206a" filter="url(#b1)" opacity="0.8"/><path d="M123.6 1019 C116 1020 112 1024 109 1032 C106 1040 103 1048 98 1056 C93 1063 88 1068 87 1075 C87 1081 90 1084 94 1084 C99 1084 103 1082 107 1079 C112 1073 116 1067 122 1063 C130 1058 137 1055 145 1051 C152 1047 156 1043 156 1036 C156 1028 152 1021 141 1019 Z" fill="#4a3628" filter="url(#b1)" transform="translate(0.8 1.4)"/><path d="M123.6 1019 C116 1020 112 1024 109 1032 C106 1040 103 1048 98 1056 C93 1063 88 1068 87 1075 C87 1081 90 1084 94 1084 C99 1084 103 1082 107 1079 C112 1073 116 1067 122 1063 C130 1058 137 1055 145 1051 C152 1047 156 1043 156 1036 C156 1028 152 1021 141 1019 Z" fill="url(#gtear)" filter="url(#b08)" transform="translate(0 0) scale(1)"/><ellipse cx="150" cy="1036" rx="4" ry="11" fill="#7a6044" filter="url(#b2)" opacity="0.7"/><ellipse cx="115" cy="1040" rx="5" ry="14" fill="#f2cc70" filter="url(#b2)" transform="rotate(25 115 1040)" opacity="0.9"/><ellipse cx="113" cy="1032" rx="2.5" ry="6" fill="#fff4d8" filter="url(#b1)" transform="rotate(25 113 1032)" opacity="0.9"/><ellipse cx="102" cy="1064" rx="4" ry="10" fill="#d8a850" filter="url(#b2)" transform="rotate(40 102 1064)" opacity="0.9"/><ellipse cx="92" cy="1077" rx="5" ry="4" fill="#fbf4e6" filter="url(#b1)" transform="rotate(-35 92 1077)"/><path d="M122 1020 C130 1017 140 1017 148 1021" stroke="#4a3a30" stroke-width="2" fill="none" filter="url(#b08)"/><ellipse cx="85" cy="1022" rx="11" ry="9.5" fill="#f0e4dc" filter="url(#b1)"/><path d="M77.0 1017.0C77.8 1015.5 80.3 1015.1 82.0 1015.0C83.7 1014.9 85.3 1016.3 87.0 1016.5C88.7 1016.7 90.8 1015.2 92.0 1016.0C93.2 1016.8 94.0 1019.3 94.0 1021.0C94.0 1022.7 93.2 1024.8 92.0 1026.0C90.8 1027.2 88.7 1028.5 87.0 1028.5C85.3 1028.5 83.7 1026.8 82.0 1026.0C80.3 1025.2 77.8 1025.5 77.0 1024.0C76.2 1022.5 76.2 1018.5 77.0 1017.0Z" fill="#1e1e2e" filter="url(#b05)"/><circle cx="84" cy="1020" r="2" fill="#b8c0d0" filter="url(#b05)"/><circle cx="88" cy="1024" r="1.5" fill="#b8c0d0" filter="url(#b05)"/><rect x="10" y="1127" width="79" height="74" rx="5" fill="#b09898" /><rect x="70" y="1138" width="19" height="54" fill="url(#grect)" filter="url(#b1)"/><path d="M10 1127 H83 Q89 1127 89 1133 V1196 Q89 1202 83 1202 H10" fill="none" stroke="#4a3a40" stroke-width="2.2" filter="url(#b08)"/><rect x="10" y="1125.5" width="76" height="3" fill="#b0804a" filter="url(#b05)"/><rect x="10" y="1128.5" width="74" height="6" fill="url(#gwhite)" filter="url(#b05)"/><rect x="10" y="1134.5" width="76" height="4.5" fill="#c8862e" filter="url(#b05)"/><rect x="10" y="1139" width="77" height="3" fill="#4a3020" filter="url(#b05)"/><rect x="10" y="1188" width="75" height="3" fill="#b8824a" filter="url(#b05)"/><rect x="10" y="1191" width="74" height="5" fill="url(#gwhite)" filter="url(#b05)"/><rect x="10" y="1196" width="76" height="3.5" fill="#c8862e" filter="url(#b05)"/><rect x="10" y="1199.5" width="78" height="2.5" fill="#1e1830" filter="url(#b05)"/><rect x="10" y="1202" width="77" height="3" fill="#3c5cd8" filter="url(#b08)" opacity="0.85"/><rect x="10" y="1205.5" width="74" height="3" fill="#d09060" filter="url(#b1)" opacity="0.5"/><path d="M127.2 887.5 L130.5 873.5 L133.2 878.1 L144.7 871.1 L149.7 879.3 L139.4 886.7 L140.7 891.2Z" fill="#f6f000" stroke="#f6f000" stroke-width="0.6" stroke-linejoin="round"/><path d="M343.6 834.6 L346.9 820.6 L349.6 825.2 L361.1 818.2 L366.1 826.4 L355.8 833.8 L357.1 838.3Z" fill="#f6f000" stroke="#f6f000" stroke-width="0.6" stroke-linejoin="round"/><path d="M433.6 881.3 L436.9 867.3 L439.6 871.9 L451.1 864.9 L456.1 873.1 L445.8 880.5 L447.1 885.0Z" fill="#f6f000" stroke="#f6f000" stroke-width="0.6" stroke-linejoin="round"/><path d="M190.7 1062.1 L194.0 1048.1 L196.7 1052.7 L208.2 1045.7 L213.2 1053.9 L202.9 1061.3 L204.2 1065.8Z" fill="#f01010" stroke="#f01010" stroke-width="0.6" stroke-linejoin="round"/></g>
</svg>
</body></html>
